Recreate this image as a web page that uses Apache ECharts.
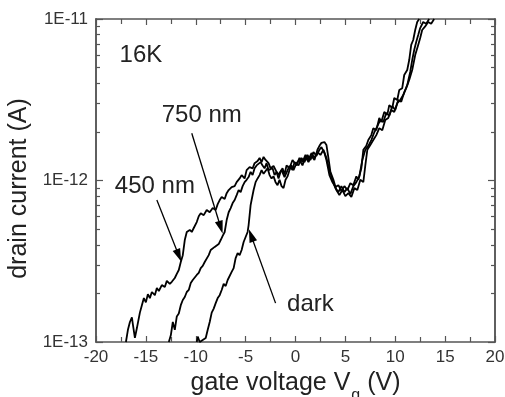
<!DOCTYPE html>
<html>
<head>
<meta charset="utf-8">
<script src="https://cdn.jsdelivr.net/npm/echarts@6/dist/echarts.min.js"></script>
<style>
  html, body { margin: 0; padding: 0; background: #fff; }
  #container { width: 505px; height: 397px; }
</style>
</head>
<body>
<div id="container"></div>
<script>
// gate voltage (V) vs drain current in pA (1 pA = 1E-12 A)
var curve450 = [
  [-17.0,0.100],[-16.8,0.119],[-16.6,0.133],[-16.4,0.142],[-16.3,0.128],[-16.1,0.106],[-15.9,0.122],[-15.6,0.152],
  [-15.4,0.169],[-15.2,0.187],[-15.0,0.176],[-14.8,0.198],[-14.6,0.187],[-14.4,0.204],[-14.1,0.195],[-13.9,0.216],
  [-13.7,0.207],[-13.4,0.225],[-13.1,0.219],[-12.9,0.239],[-12.6,0.229],[-12.4,0.236],[-12.1,0.249],[-11.9,0.264],
  [-11.7,0.279],[-11.5,0.313],[-11.3,0.345],[-11.1,0.428],[-10.9,0.480],[-10.6,0.494],[-10.4,0.480],[-10.2,0.508],
  [-9.9,0.553],[-9.7,0.601],[-9.5,0.627],[-9.2,0.610],[-8.9,0.657],[-8.6,0.636],[-8.3,0.675],[-8.0,0.657],
  [-7.8,0.714],[-7.6,0.757],[-7.4,0.790],[-7.1,0.768],[-6.9,0.835],[-6.7,0.873],[-6.4,0.910],[-6.1,0.923],
  [-5.9,0.977],[-5.6,1.03],[-5.4,1.08],[-5.1,1.03],[-4.9,1.16],[-4.6,1.21],[-4.3,1.19],[-4.1,1.28],
  [-3.8,1.32],[-3.6,1.38],[-3.4,1.30],[-3.2,1.40],[-3.0,1.34],[-2.7,1.28],[-2.5,1.19],[-2.2,1.23],
  [-1.9,1.13],[-1.7,1.09],[-1.4,1.16],[-1.1,1.05],[-0.9,1.08],[-0.6,1.23],[-0.3,1.16],[-0.1,1.30],
  [0.3,1.24],[0.6,1.38],[0.9,1.30],[1.2,1.44],[1.5,1.34],[1.8,1.50],[2.1,1.42],[2.4,1.55],
  [2.6,1.61],[2.9,1.48],[3.1,1.34],[3.4,1.08],[3.7,0.977],[4.0,0.910],[4.3,0.936],[4.6,0.859],
  [4.9,0.923],[5.2,0.873],[5.5,0.963],[5.8,0.936],[6.1,1.06],[6.3,1.01],[6.6,1.19],[6.8,1.55],
  [7.1,1.64],[7.3,1.78],[7.6,1.91],[7.8,2.11],[8.1,2.05],[8.4,2.44],[8.6,2.30],[8.9,2.66],
  [9.2,2.55],[9.4,2.93],[9.7,2.81],[9.9,3.24],[10.2,3.15],[10.4,3.63],[10.7,3.73],[10.9,4.50],
  [11.2,4.83],[11.4,5.57],[11.6,6.91],[11.8,7.41],[12.0,8.55],[12.2,9.58],[12.4,10.0]
];
var curve750 = [
  [-12.7,0.100],[-12.5,0.110],[-12.3,0.133],[-12.1,0.119],[-11.9,0.144],[-11.7,0.150],[-11.5,0.169],[-11.3,0.182],
  [-11.1,0.190],[-10.9,0.204],[-10.7,0.210],[-10.5,0.232],[-10.3,0.242],[-10.1,0.236],[-9.9,0.260],[-9.7,0.268],
  [-9.5,0.287],[-9.3,0.296],[-9.1,0.313],[-8.9,0.322],[-8.7,0.345],[-8.5,0.371],[-8.3,0.361],[-8.1,0.388],
  [-7.9,0.383],[-7.7,0.404],[-7.5,0.428],[-7.3,0.454],[-7.1,0.480],[-6.9,0.569],[-6.7,0.636],[-6.5,0.675],
  [-6.3,0.725],[-6.1,0.757],[-5.9,0.812],[-5.7,0.873],[-5.5,0.847],[-5.3,0.923],[-5.1,0.977],[-4.9,1.01],
  [-4.7,1.05],[-4.5,1.13],[-4.3,1.08],[-4.1,1.19],[-3.9,1.24],[-3.7,1.23],[-3.5,1.30],[-3.3,1.24],
  [-3.1,1.19],[-2.9,1.28],[-2.7,1.16],[-2.5,1.13],[-2.3,1.19],[-2.1,1.08],[-1.9,1.13],[-1.7,1.03],
  [-1.5,1.13],[-1.3,1.19],[-1.1,1.09],[-0.9,1.24],[-0.6,1.19],[-0.3,1.34],[0.1,1.24],[0.4,1.38],
  [0.7,1.30],[1.0,1.44],[1.3,1.34],[1.6,1.48],[1.9,1.38],[2.2,1.50],[2.5,1.44],[2.8,1.55],
  [3.1,1.38],[3.4,1.16],[3.7,1.01],[4.0,0.897],[4.3,0.847],[4.6,0.923],[4.9,0.847],[5.2,0.897],
  [5.5,0.824],[5.8,0.923],[6.1,0.977],[6.4,1.06],[6.7,1.34],[7.0,1.55],[7.3,1.64],[7.6,1.78],
  [7.9,1.99],[8.2,2.16],[8.5,2.37],[8.8,2.30],[9.1,2.62],[9.4,2.52],[9.7,2.89],[10.0,2.73],
  [10.3,3.15],[10.6,3.07],[10.9,3.52],[11.2,3.89],[11.5,4.70],[11.7,5.57],[11.9,6.43],[12.1,7.21],
  [12.3,7.95],[12.5,8.79],[12.8,9.58],[13.1,9.35],[13.4,10.0]
];
var curveDark = [
  [-9.9,0.100],[-9.8,0.108],[-9.6,0.100],[-9.3,0.103],[-9.0,0.106],[-8.8,0.119],[-8.6,0.133],[-8.4,0.152],
  [-8.2,0.161],[-8.0,0.174],[-7.8,0.187],[-7.6,0.195],[-7.4,0.210],[-7.2,0.229],[-7.0,0.222],[-6.8,0.242],
  [-6.6,0.236],[-6.4,0.272],[-6.2,0.287],[-6.0,0.331],[-5.8,0.355],[-5.6,0.345],[-5.4,0.371],[-5.2,0.416],
  [-5.0,0.447],[-4.8,0.480],[-4.7,0.530],[-4.6,0.610],[-4.5,0.704],[-4.4,0.757],[-4.2,0.873],[-4.0,0.977],
  [-3.8,1.03],[-3.6,1.08],[-3.4,1.16],[-3.2,1.10],[-3.0,1.13],[-2.8,1.19],[-2.6,1.08],[-2.4,1.03],
  [-2.2,1.06],[-2.0,0.977],[-1.8,0.936],[-1.6,1.01],[-1.4,0.923],[-1.2,0.897],[-1.0,1.01],[-0.8,1.06],
  [-0.6,1.16],[-0.4,1.24],[-0.2,1.16],[0.1,1.28],[0.4,1.34],[0.7,1.24],[1.0,1.40],[1.3,1.30],
  [1.6,1.42],[1.9,1.34],[2.2,1.55],[2.4,1.64],[2.6,1.71],[2.9,1.73],[3.1,1.66],[3.3,1.38],
  [3.5,1.13],[3.8,1.01],[4.1,0.873],[4.4,0.812],[4.7,0.873],[5.0,0.801],[5.3,0.835],[5.6,0.790],
  [5.9,0.897],[6.2,0.873],[6.5,1.01],[6.8,0.977],[7.0,1.24],[7.2,1.55],[7.5,1.66],[7.8,1.78],
  [8.1,1.91],[8.4,2.11],[8.7,2.05],[9.0,2.37],[9.3,2.44],[9.6,2.73],[9.9,2.66],[10.2,3.01],
  [10.5,3.15],[10.8,3.38],[11.1,3.73],[11.4,4.19],[11.7,4.83],[12.0,5.98],[12.3,6.91],[12.5,7.62],
  [12.7,8.55],[13.0,9.0],[13.3,9.58],[13.6,9.35],[13.9,10.0]
];

var yMajorTicks = [0.1, 1, 10];
var yMinorTicks = [0.2, 0.3, 0.4, 0.5, 0.6, 0.7, 0.8, 0.9, 2, 3, 4, 5, 6, 7, 8, 9];

// text notes: [V, pA, text]
var notes = [
  [-15.5, 5.98, '16K'],
  [-14.1, 0.923, '450 nm'],
  [-9.4, 2.52, '750 nm'],
  [1.5, 0.171, 'dark']
];
// arrows: [fromV, fromI, toV, toI]
var arrows = [
  [-13.9, 0.757, -11.7, 0.343],
  [-10.4, 1.96, -7.5, 0.513],
  [-2.0, 0.174, -4.45, 0.457]
];

var font = '"Liberation Sans", Arial, sans-serif';
var axisColor = '#555';
var textColor = '#222';

function xAx(pos, labels) {
  return {
    type: 'value', position: pos, min: -20, max: 20, interval: 5,
    axisLine: {show: true, onZero: false, lineStyle: {color: axisColor, width: 1.5}},
    axisTick: {show: true, inside: true, length: 6, lineStyle: {color: axisColor, width: 1.2}},
    minorTick: {show: true, splitNumber: 2, length: 5, lineStyle: {color: axisColor, width: 1.2}},
    axisLabel: {show: labels, fontSize: 17, color: '#333', fontFamily: font, margin: 7,
      showMinLabel: true, showMaxLabel: true},
    splitLine: {show: false},
    minorSplitLine: {show: false}
  };
}

function yAx(pos, ticks, len, labels) {
  return {
    type: 'log', logBase: 10, position: pos, min: 0.1, max: 10,
    axisLine: {show: true, onZero: false, lineStyle: {color: axisColor, width: 1.5}},
    axisTick: {show: true, inside: true, length: len, customValues: ticks,
      lineStyle: {color: axisColor, width: 1.2}},
    axisLabel: {show: labels, fontSize: 17, color: '#333', fontFamily: font, margin: 8,
      formatter: function (v) {
        return '1E' + (Math.round(Math.log10(v)) - 12);
      }},
    splitLine: {show: false}
  };
}

function curve(name, data) {
  return {
    name: name, type: 'line', data: data,
    xAxisIndex: 0, yAxisIndex: 0,
    showSymbol: false, symbol: 'none', smooth: false,
    lineStyle: {color: '#000', width: 1.8},
    silent: true
  };
}

var xBottom = xAx('bottom', true);
xBottom.name = '{t|gate voltage V}{s|g}{t| (V)}';
xBottom.nameLocation = 'middle';
xBottom.nameGap = 17;
xBottom.nameTextStyle = {
  rich: {
    t: {fontSize: 25, color: textColor, fontFamily: font, verticalAlign: 'top'},
    s: {fontSize: 16, color: textColor, fontFamily: font, verticalAlign: 'top', padding: [17, 0, 0, 1]}
  }
};

var yLeft = yAx('left', yMajorTicks, 7, true);
yLeft.name = 'drain current (A)';
yLeft.nameLocation = 'middle';
yLeft.nameGap = 62;
yLeft.nameTextStyle = {fontSize: 25, color: textColor, fontFamily: font, padding: [0, 16, 0, 0]};

var s450 = curve('450 nm', curve450);
s450.markPoint = {
  symbol: 'circle', symbolSize: 0, silent: true,
  label: {show: true, position: 'inside', formatter: '{b}', fontSize: 24, color: textColor, fontFamily: font},
  data: notes.map(function (n) { return {name: n[2], coord: [n[0], n[1]]}; })
};
s450.markLine = {
  silent: true,
  symbol: ['none', 'triangle'],
  symbolSize: [8, 13],
  label: {show: false},
  lineStyle: {color: '#000', width: 1.3, type: 'solid'},
  data: arrows.map(function (a) {
    return [{coord: [a[0], a[1]]}, {coord: [a[2], a[3]]}];
  })
};

var dom = document.getElementById('container');
var myChart = echarts.init(dom);
var option = {
  animation: false,
  backgroundColor: '#fff',
  grid: {left: 96, right: 10, top: 19, bottom: 55, containLabel: false, outerBoundsMode: 'none'},
  xAxis: [xBottom, xAx('top', false)],
  yAxis: [
    yLeft,
    yAx('left', yMinorTicks, 4, false),
    yAx('right', yMajorTicks, 7, false),
    yAx('right', yMinorTicks, 4, false)
  ],
  series: [
    s450,
    curve('750 nm', curve750),
    curve('dark', curveDark)
  ]
};
myChart.setOption(option);
</script>
</body>
</html>
